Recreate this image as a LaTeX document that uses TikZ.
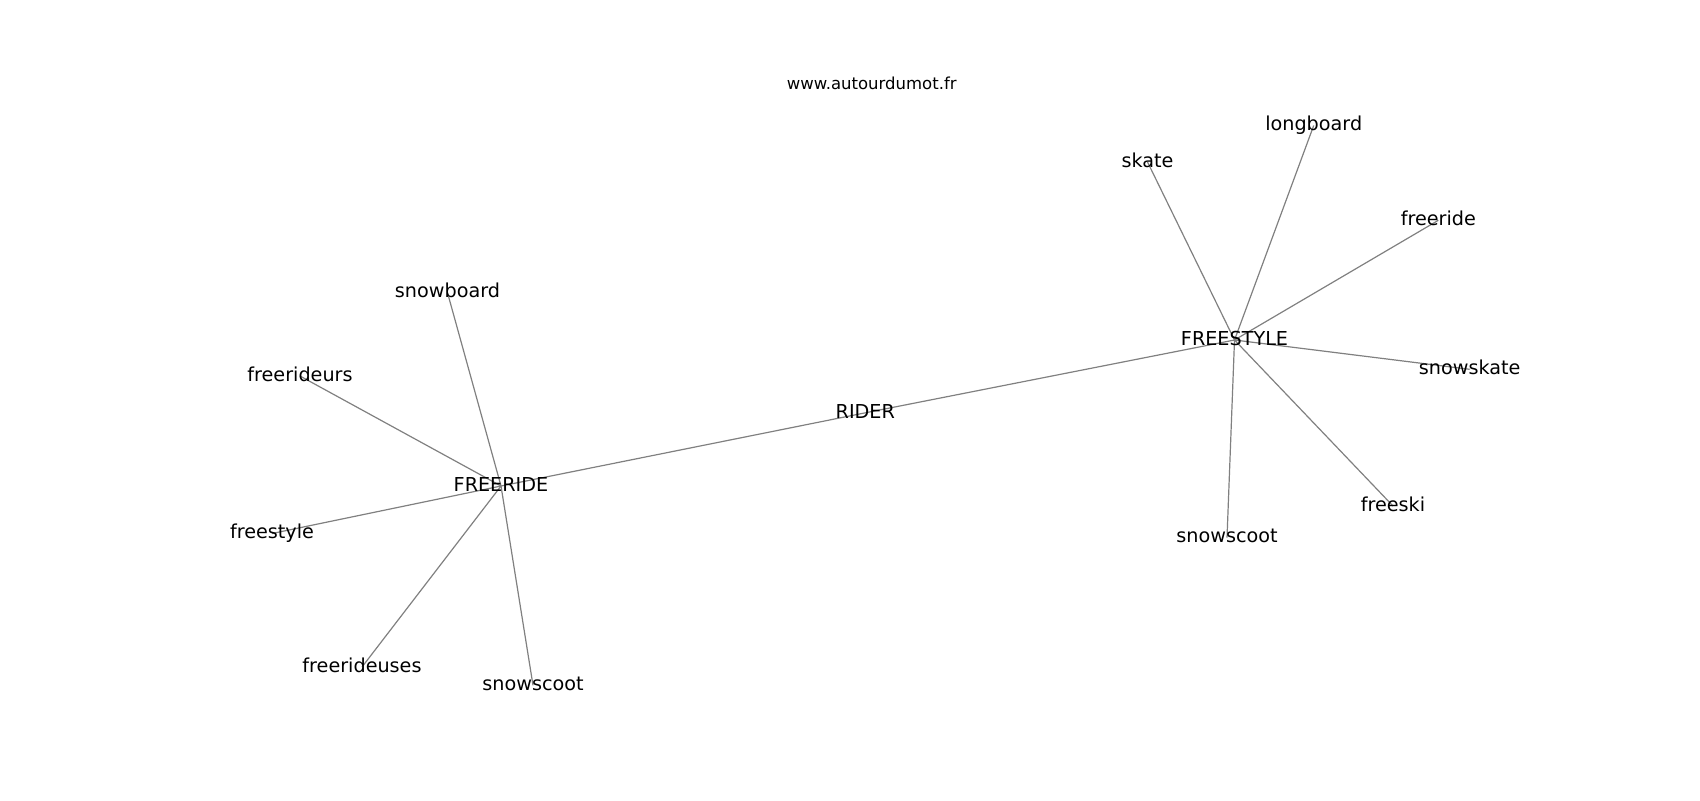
\documentclass[tikz,border=0pt]{standalone}
\usepackage{fontspec}
\setmainfont{DejaVu Sans}
\usetikzlibrary{calc}
\begin{document}
\begin{tikzpicture}[x=0.5pt,y=-0.5pt,
  lbl/.style={font=\fontsize{9.6pt}{11pt}\selectfont, anchor=base, inner sep=0pt, text=black},
  ttl/.style={font=\fontsize{8.25pt}{10pt}\selectfont, anchor=base, inner sep=0pt, text=black},
  edge/.style={draw=black!50, line width=0.6pt}]
\useasboundingbox (0,0) rectangle (1700,800);
% node points
\coordinate (FR) at (501,486);
\coordinate (FS) at (1234.5,340);
\coordinate (RI) at (865.3,412.8);
\coordinate (sb) at (447.5,292.7);
\coordinate (frd) at (300,376);
\coordinate (fst) at (272,533.5);
\coordinate (fru) at (362,667);
\coordinate (ssl) at (533,685.3);
\coordinate (sk) at (1147.5,162);
\coordinate (lb) at (1313.7,125.5);
\coordinate (fri) at (1438.3,220.3);
\coordinate (ssk) at (1469.7,369.3);
\coordinate (fsk) at (1393,506);
\coordinate (ssr) at (1227,537.7);
% edges
\draw[edge] (FR) -- (RI);
\draw[edge] (RI) -- (FS);
\draw[edge] (FR) -- (sb);
\draw[edge] (FR) -- (frd);
\draw[edge] (FR) -- (fst);
\draw[edge] (FR) -- (fru);
\draw[edge] (FR) -- (ssl);
\draw[edge] (FS) -- (sk);
\draw[edge] (FS) -- (lb);
\draw[edge] (FS) -- (fri);
\draw[edge] (FS) -- (ssk);
\draw[edge] (FS) -- (fsk);
\draw[edge] (FS) -- (ssr);
% labels
\node[ttl] (title) at (871.7,89.5) {www.autourdumot.fr};
\node[lbl] (tFR) at ($(FR)+(0,5.2)$) {FREERIDE};
\node[lbl] (tFS) at ($(FS)+(0,5.2)$) {FREESTYLE};
\node[lbl] (tRI) at ($(RI)+(0,5.2)$) {RIDER};
\node[lbl] (tsb) at ($(sb)+(0,5.2)$) {snowboard};
\node[lbl] (tfrd) at ($(frd)+(0,5.2)$) {freerideurs};
\node[lbl] (tfst) at ($(fst)+(0,5.2)$) {freestyle};
\node[lbl] (tfru) at ($(fru)+(0,5.2)$) {freerideuses};
\node[lbl] (tssl) at ($(ssl)+(0,5.2)$) {snowscoot};
\node[lbl] (tsk) at ($(sk)+(0,5.2)$) {skate};
\node[lbl] (tlb) at ($(lb)+(0,5.2)$) {longboard};
\node[lbl] (tfri) at ($(fri)+(0,5.2)$) {freeride};
\node[lbl] (tssk) at ($(ssk)+(0,5.2)$) {snowskate};
\node[lbl] (tfsk) at ($(fsk)+(0,5.2)$) {freeski};
\node[lbl] (tssr) at ($(ssr)+(0,5.2)$) {snowscoot};
\end{tikzpicture}
\end{document}
